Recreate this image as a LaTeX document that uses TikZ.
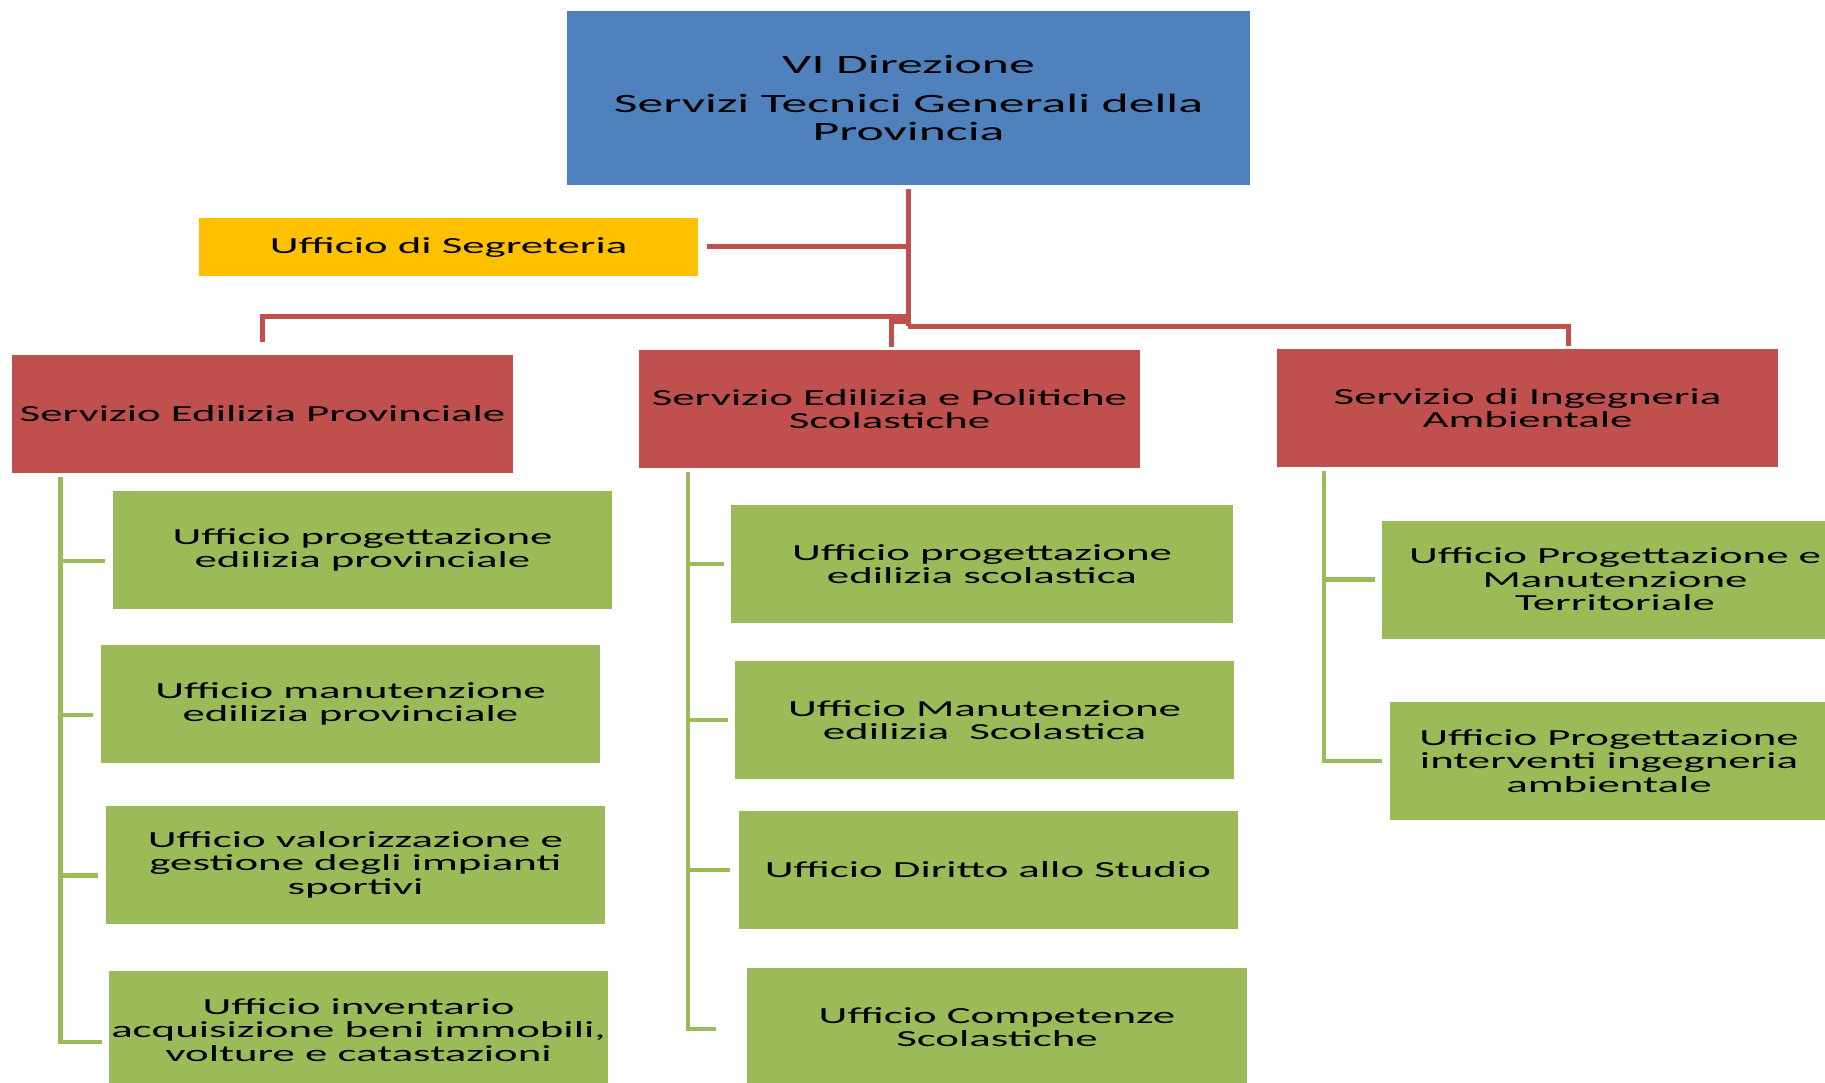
\documentclass[tikz,border=0pt]{standalone}
\usepackage{fontspec}
\setmainfont[FakeStretch=1.95]{Carlito}
\definecolor{cblue}{HTML}{4F81BD}
\definecolor{cred}{HTML}{C0504D}
\definecolor{cgreen}{HTML}{9BBB59}
\definecolor{cyellow}{HTML}{FFC000}
\begin{document}
\begin{tikzpicture}[x=1pt,y=-1pt,
  box/.style={draw=none, inner sep=0pt, align=center, text=black,
    font=\fontsize{23}{23.5}\selectfont},
  gbox/.style={box, fill=cgreen, minimum width=499, minimum height=118},
  rbox/.style={box, fill=cred, minimum width=501, minimum height=118},
  redline/.style={draw=cred, line width=5pt},
  gline/.style={draw=cgreen, line width=4.5pt}]
\useasboundingbox (0,0) rectangle (1825,1083);
\clip (0,0) rectangle (1825,1083);
\fill[white] (0,0) rectangle (1825,1083);

% top
\node[box, fill=cblue, minimum width=683, minimum height=174,
  font=\fontsize{26.5}{28}\selectfont] (top) at (908.5,98)
  {VI Direzione\\[11pt]Servizi Tecnici Generali della\\Provincia};
\node[box, fill=cyellow, minimum width=499, minimum height=58] (segr) at (448.5,247)
  {Ufficio di Segreteria};

% services
\node[rbox] (sl) at (262.5,413.5) {Servizio Edilizia Provinciale};
\node[rbox] (sm) at (889.5,409) {Servizio Edilizia e Politiche\\Scolastiche};
\node[rbox] (sr) at (1527.5,408) {Servizio di Ingegneria\\Ambientale};

% left column
\node[gbox] (g1) at (362.5,550) {Ufficio progettazione\\edilizia provinciale};
\node[gbox] (g2) at (350.5,704) {Ufficio manutenzione\\edilizia provinciale};
\node[gbox] (g3) at (355.5,864.5) {Ufficio valorizzazione e\\gestione degli impianti\\sportivi};
\node[gbox] (g4) at (358.5,1030) {Ufficio inventario\\acquisizione beni immobili,\\volture e catastazioni};

% middle column
\node[gbox, minimum width=502] (m1) at (982,564) {Ufficio progettazione\\edilizia scolastica};
\node[gbox] (m2) at (984.5,720) {Ufficio Manutenzione\\edilizia\ \ Scolastica};
\node[gbox] (m3) at (988,870) {Ufficio Diritto allo Studio};
\node[gbox, minimum width=500] (m4) at (997,1027) {Ufficio Competenze\\Scolastiche};

% right column
\node[gbox, minimum width=466] (r1) at (1615,579.5) {Ufficio Progettazione e\\Manutenzione\\Territoriale};
\node[gbox, minimum width=438] (r2) at (1609,761) {Ufficio Progettazione\\interventi ingegneria\\ambientale};

% red connectors
\coordinate (trunkTop) at (908,189);
\coordinate (jl) at (908,316);
\coordinate (jm) at (908,321);
\coordinate (jr) at (908,326);
\draw[redline] (trunkTop) -- (jr);
\draw[redline] ([xshift=9pt]segr.east) -- (segr.east -| trunkTop);
\draw[redline] (jl) -| ([yshift=12pt]sl.north);
\draw[redline] (jm) -| ([xshift=1.5pt,yshift=3pt]sm.north);
\draw[redline] (jr) -| ([xshift=40.5pt,yshift=3pt]sr.north);

% green connectors
\coordinate (lv0) at (60.5,477);
\coordinate (mv0) at (688,472);
\coordinate (rv0) at (1324,471);
\draw[gline] (lv0) |- ([xshift=-8pt,yshift=-11pt]g1.west);
\draw[gline] (lv0) |- ([xshift=-8pt,yshift=-11pt]g2.west);
\draw[gline] (lv0) |- ([xshift=-8pt,yshift=-11pt]g3.west);
\draw[gline] (lv0) |- ([xshift=-7pt,yshift=-12pt]g4.west);
\draw[gline] (mv0) |- ([xshift=-7pt]m1.west);
\draw[gline] (mv0) |- ([xshift=-7pt]m2.west);
\draw[gline] (mv0) |- ([xshift=-8pt]m3.west);
\draw[gline] (mv0) |- ([xshift=-31pt,yshift=-2pt]m4.west);
\draw[gline] (rv0) |- ([xshift=-7pt]r1.west);
\draw[gline] (rv0) |- ([xshift=-8pt]r2.west);
\end{tikzpicture}
\end{document}
